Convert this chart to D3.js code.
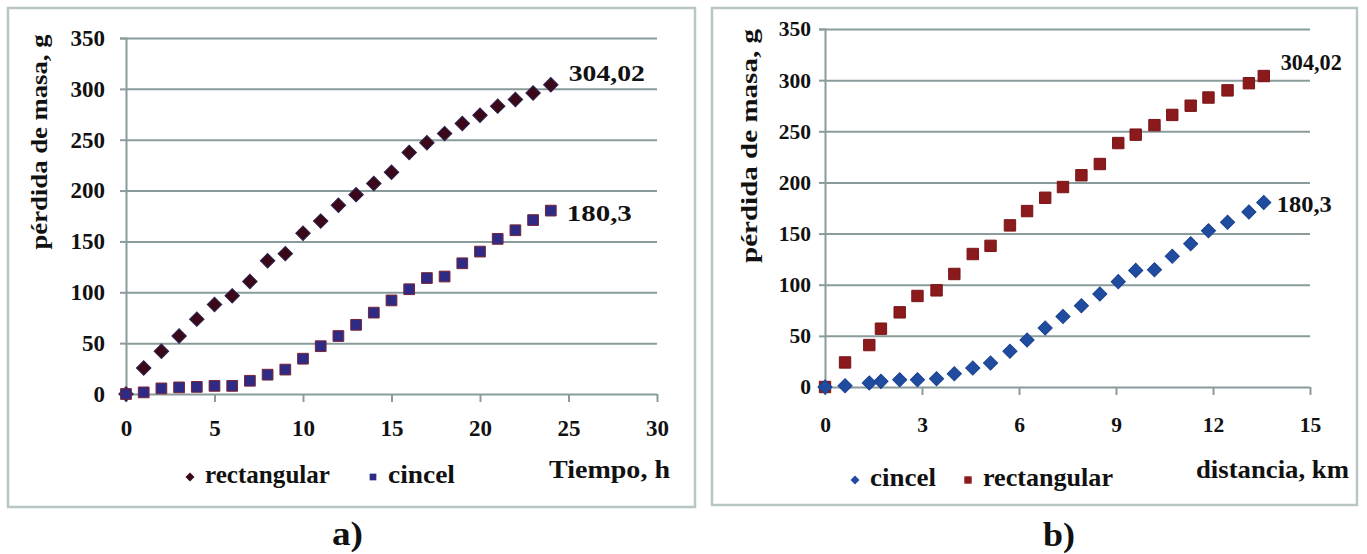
<!DOCTYPE html>
<html>
<head>
<meta charset="utf-8">
<script src="https://cdn.jsdelivr.net/npm/d3@7"></script>
<style>
  body { margin: 0; background: #fff; }
  svg text { font-family: "Liberation Serif", "Times New Roman", serif; font-weight: bold; fill: #111; }
</style>
</head>
<body>
<svg id="chart" width="1367" height="554"></svg>
<script>
// ---- data ----
// a) mass loss vs time (h)
var horas = [0,1,2,3,4,5,6,7,8,9,10,11,12,13,14,15,16,17,18,19,20,21,22,23,24];
var rectTiempo = [0,25.5,42,57,73.6,88,96.5,110.6,131,138,158,170,185.5,196,207,218,237.5,247,256,266,274,283,289.5,296,304.02];
var cincelTiempo = [0,1.6,5.5,6.5,7,8,8,13,19,24,34.7,47,57,68,80,92,103,114,115.5,128.5,140,152.5,161,171,180.3];

// b) mass loss vs distance (km)
var distancia = [0,0.62,1.37,1.73,2.31,2.86,3.45,4.0,4.57,5.12,5.72,6.25,6.81,7.36,7.93,8.5,9.07,9.61,10.19,10.74,11.31,11.86,12.45,13.11,13.57];
var rectDist = [0,24,41,57,73,89,94.5,110.5,130,138,158,172,185,195.5,207,218,238.5,246.7,256,266,275,283,290,297,304.02];
var cincelDist = [0,1.3,4,5.5,7,7,8,13,18.6,23.5,35,46,57.7,69,79.5,91,103,114,114.7,127.8,140,152.7,161,171,180.3];

var yTicks = [0,50,100,150,200,250,300,350];
var xTicksA = [0,5,10,15,20,25,30];
var xTicksB = [0,3,6,9,12,15];

var svg = d3.select("#chart");
var gridColor = "#8a9b9b";

//Panel frames
svg.append("rect").attr("x", 8).attr("y", 8).attr("width", 687).attr("height", 499)
  .attr("fill", "none").attr("stroke", "#b9c6c6").attr("stroke-width", 2.5);
svg.append("rect").attr("x", 712).attr("y", 8).attr("width", 645).attr("height", 497)
  .attr("fill", "none").attr("stroke", "#b9c6c6").attr("stroke-width", 2.5);

var marker = function(size){
  return d3.symbol().type(d3.symbolSquare).size(size)();
};

function drawPanel(p){
  var xScale = d3.scaleLinear().domain(p.xDomain).range(p.xRange);
  var yScale = d3.scaleLinear().domain([0, 350]).range(p.yRange);
  var g = svg.append("g");

  //gridlines
  g.append("g")
    .attr("transform", "translate(" + p.xRange[0] + ",0)")
    .call(d3.axisLeft(yScale).tickValues(yTicks).tickSize(-(p.xRange[1] - p.xRange[0])).tickFormat(""))
    .call(function(s){
      s.select(".domain").remove();
      s.selectAll("line").attr("stroke", gridColor).attr("stroke-width", 2);
    });

  //y axis
  g.append("g")
    .attr("transform", "translate(" + p.xRange[0] + ",0)")
    .call(d3.axisLeft(yScale).tickValues(yTicks).tickSize(6).tickPadding(p.yPad))
    .call(function(s){
      s.select(".domain").attr("stroke", gridColor).attr("stroke-width", 2);
      s.selectAll("line").attr("stroke", gridColor).attr("stroke-width", 2);
      s.selectAll("text").style("font-size", p.font + "px").attr("fill", "#111");
    });

  //x axis
  g.append("g")
    .attr("transform", "translate(0," + p.yRange[0] + ")")
    .call(d3.axisBottom(xScale).tickValues(p.xTicks).tickSize(8).tickPadding(p.xPad))
    .call(function(s){
      s.select(".domain").remove();
      s.selectAll("line").attr("stroke", gridColor).attr("stroke-width", 2);
      s.selectAll("text").style("font-size", p.font + "px").attr("fill", "#111");
    });

  //series
  p.series.forEach(function(ser){
    g.append("g").selectAll("path")
      .data(ser.y.map(function(v, i){ return [p.x[i], v]; }))
      .enter()
      .append("path")
      .attr("d", marker(ser.size))
      .attr("transform", function(d){
        return "translate(" + xScale(d[0]) + "," + yScale(d[1]) + ")" + (ser.rot ? " rotate(45)" : "");
      })
      .attr("fill", ser.fill)
      .attr("stroke", ser.stroke)
      .attr("stroke-width", 1);

    //end value label
    var n = ser.y.length - 1;
    g.append("text")
      .attr("x", xScale(p.x[n]) + ser.lab[0])
      .attr("y", yScale(ser.y[n]) + ser.lab[1])
      .attr("textLength", ser.lab[2])
      .attr("lengthAdjust", "spacingAndGlyphs")
      .style("font-size", "24px")
      .text(ser.label);
  });

  //y title
  g.append("text")
    .attr("transform", "translate(" + p.yTitle[0] + "," + p.yTitle[1] + ") rotate(-90)")
    .attr("text-anchor", "middle")
    .attr("textLength", p.yTitle[2])
    .attr("lengthAdjust", "spacingAndGlyphs")
    .style("font-size", "24px")
    .text("pérdida de masa, g");

  //legend
  p.legend.forEach(function(l){
    g.append("path")
      .attr("d", marker(l.size))
      .attr("transform", "translate(" + l.x + "," + l.y + ")" + (l.rot ? " rotate(45)" : ""))
      .attr("fill", l.fill);
    g.append("text")
      .attr("x", l.x + 15).attr("y", l.y + 6)
      .attr("textLength", l.len)
      .attr("lengthAdjust", "spacingAndGlyphs")
      .style("font-size", "25px")
      .text(l.text);
  });

  //x title
  g.append("text")
    .attr("x", p.xTitle[0]).attr("y", p.xTitle[1])
    .attr("textLength", p.xTitle[2])
    .attr("lengthAdjust", "spacingAndGlyphs")
    .style("font-size", "25px")
    .text(p.xLabel);

  //panel letter
  g.append("text")
    .attr("x", p.letter[0]).attr("y", p.letter[1])
    .attr("textLength", p.letter[2])
    .attr("lengthAdjust", "spacingAndGlyphs")
    .style("font-size", "34px")
    .text(p.letterText);
}

drawPanel({
  xDomain: [0, 30], xRange: [126, 657], yRange: [394, 38],
  xTicks: xTicksA, x: horas, font: 23, yPad: 15, xPad: 18,
  series: [
    {y: rectTiempo, size: 105, rot: true, fill: "#3a0818", stroke: "#2b2350", label: "304,02", lab: [18, -4, 76]},
    {y: cincelTiempo, size: 115, rot: false, fill: "#2d2b86", stroke: "#7a2434", label: "180,3", lab: [16, 10, 65]}
  ],
  yTitle: [47, 142, 215],
  legend: [
    {x: 190, y: 477, size: 40, rot: true, fill: "#3a0818", text: "rectangular", len: 125},
    {x: 373, y: 477, size: 45, rot: false, fill: "#2d2b86", text: "cincel", len: 67}
  ],
  xTitle: [549, 478, 121], xLabel: "Tiempo, h",
  letter: [332, 545, 31], letterText: "a)"
});

drawPanel({
  xDomain: [0, 15], xRange: [825, 1310], yRange: [387, 29],
  xTicks: xTicksB, x: distancia, font: 21.5, yPad: 8, xPad: 22,
  series: [
    {y: rectDist, size: 130, rot: false, fill: "#8b1a1c", stroke: "#7a1518", label: "304,02", lab: [17, -6, 61]},
    {y: cincelDist, size: 100, rot: true, fill: "#1f4c9f", stroke: "#1c4290", label: "180,3", lab: [13, 9, 55]}
  ],
  yTitle: [757, 146, 234],
  legend: [
    {x: 855, y: 480, size: 40, rot: true, fill: "#1f4c9f", text: "cincel", len: 66},
    {x: 968, y: 480, size: 55, rot: false, fill: "#8b1a1c", text: "rectangular", len: 130}
  ],
  xTitle: [1196, 478, 153], xLabel: "distancia, km",
  letter: [1043, 546, 32], letterText: "b)"
});
</script>
</body>
</html>
